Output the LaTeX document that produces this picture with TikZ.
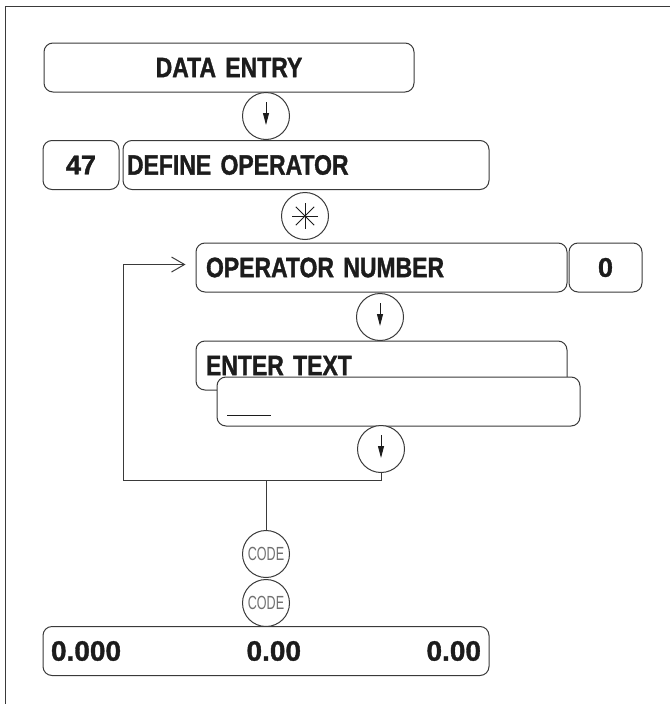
\documentclass[tikz,border=0pt]{standalone}
\usepackage{fontspec}
\setsansfont{Liberation Sans}[FakeStretch=0.82, BoldFeatures={FakeBold=1.2}]
\newfontfamily\digitfamily{Liberation Sans}[BoldFeatures={FakeBold=1.2}]
\newfontfamily\keyfamily{Liberation Sans}[FakeStretch=0.66]
\usepackage{xcolor}
\usetikzlibrary{arrows.meta,positioning}

\definecolor{ink}{HTML}{1C1C1C}
\definecolor{linegray}{HTML}{3A3A3A}
\definecolor{codegray}{HTML}{707070}

\newcommand{\dispfont}{\sffamily\bfseries\fontsize{28}{32}\selectfont}
\newcommand{\digitfont}{\digitfamily\bfseries\fontsize{27}{31}\selectfont}
\newcommand{\keyfont}{\keyfamily\fontsize{19}{22}\selectfont}

\begin{document}
\begin{tikzpicture}[
  x=1pt, y=-1pt,
  disp/.style={draw=linegray, line width=1pt, rounded corners=9pt, fill=white,
    minimum height=49pt, inner ysep=0pt, inner xsep=10pt, align=left,
    font=\dispfont, text=ink},
  numbox/.style={disp, align=center, inner xsep=0pt, font=\digitfont},
  keyc/.style={draw=linegray, line width=1pt, circle, minimum size=47pt,
    inner sep=0pt, fill=white},
  codekey/.style={keyc, font=\keyfont, text=codegray},
  down/.style={draw=ink, line width=0.9pt, -{Triangle[length=12pt,width=6pt]}},
  wire/.style={draw=linegray, line width=1pt}
]
\useasboundingbox (0,0) rectangle (670,704);
% outer frame
\draw[wire] (5,704) -- (5,6) -- (670,6);

% menu path
\node[disp, align=center, text width=350pt] (dataentry) at (229,67.5) {DATA ENTRY};
\node[keyc] (dn1) at (266,116) {};
\draw[down] ([yshift=14pt]dn1.center) -- ([yshift=-9pt]dn1.center);
\node[disp, inner xsep=4pt, text width=358pt] (defop) at (306,165) {DEFINE OPERATOR};
\node[numbox, text width=76pt, left=3pt of defop] (menu) {47};
\node[keyc] (star) at (305,216) {};
\foreach \a in {0,45,90,135}
  \draw[draw=ink, line width=0.9pt] ([shift={(\a:13pt)}]star.center) -- ([shift={(\a+180:13pt)}]star.center);

% operator entry
\node[disp, text width=351pt] (opnum) at (381.5,267.5) {OPERATOR NUMBER};
\node[numbox, text width=73pt, right=1pt of opnum] (opval) {0};
\node[keyc] (dn2) at (380,317) {};
\draw[down] ([yshift=14pt]dn2.center) -- ([yshift=-9pt]dn2.center);
\node[disp, text width=351pt] (entertext) at (381.5,365.5) {ENTER TEXT};
\node[disp, text width=343pt] (textline) at (398.5,401.5)
  {\raisebox{-14pt}[0pt][0pt]{\rule{44pt}{1pt}}};
\node[keyc] (dn3) at (381,449) {};
\draw[down] ([yshift=14pt]dn3.center) -- ([yshift=-9pt]dn3.center);

% loop back and exit
\coordinate (loopR) at (381,480);
\coordinate (loopL) at (123,480);
\coordinate (split) at (266,480);
\draw[wire] (dn3.south) -- (loopR) -- (loopL);
\draw[wire, -{Straight Barb[length=13pt,width=15pt]}] (loopL) |- ([xshift=-10pt,yshift=3pt]opnum.west);
\node[codekey] (code1) at (266,554) {CODE};
\node[codekey, below=1pt of code1] (code2) {CODE};
\draw[wire] (split) -- (code1);

% display
\node[disp, inner xsep=8pt, text width=430pt, font=\digitfamily\bfseries\fontsize{28}{32}\selectfont]
  (total) at (266,651) {0.000\hfill 0.00\hfill 0.00};
\end{tikzpicture}
\end{document}
